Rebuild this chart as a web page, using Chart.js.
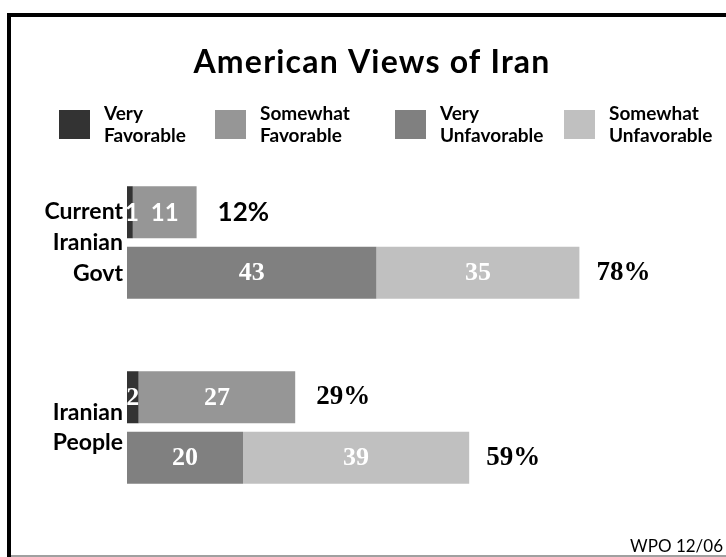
<!DOCTYPE html>
<html><head><meta charset="utf-8">
<script src="https://cdn.jsdelivr.net/npm/chart.js@4"></script>
<style>html,body{margin:0;padding:0;background:#fff}#wrap{width:726px;height:557px;position:relative}</style>
</head><body><div id="wrap"><canvas id="c" width="726" height="557"></canvas></div>
<script>
const chartTitle = "American Views of Iran";
const sourceNote = "WPO 12/06";
const categories = [["Current","Iranian","Govt"],["Iranian","People"]];
const seriesNames = [["Very","Favorable"],["Somewhat","Favorable"],["Very","Unfavorable"],["Somewhat","Unfavorable"]];
const veryFavorable = [1, 2];
const somewhatFavorable = [11, 27];
const veryUnfavorable = [43, 20];
const somewhatUnfavorable = [35, 39];
const favorableTotals = ["12%", "29%"];
const unfavorableTotals = ["78%", "59%"];

const SANS = "Lato, 'Open Sans', sans-serif";
const SERIF = "'Liberation Serif', 'DejaVu Serif', serif";

const decor = {
  id: 'decor',
  beforeDraw(chart) {
    const ctx = chart.ctx;
    ctx.save();
    ctx.fillStyle = '#fff';
    ctx.fillRect(0, 0, chart.width, chart.height);
    ctx.fillStyle = '#a0a0a0';
    ctx.fillRect(7, 555, 719, 2);
    ctx.fillStyle = '#000';
    ctx.fillRect(7, 13, 719, 4);
    ctx.fillRect(7, 13, 4, 544);
    // title
    ctx.font = "bold 32px " + SANS;
    ctx.textAlign = 'center';
    ctx.textBaseline = 'alphabetic';
    try { ctx.letterSpacing = '1.2px'; } catch (e) {}
    ctx.fillText(chartTitle, 372, 73);
    try { ctx.letterSpacing = '0px'; } catch (e) {}
    // legend
    const lx = [59, 215, 395, 564];
    chart.data.datasets.forEach((ds, i) => {
      ctx.fillStyle = ds.backgroundColor;
      ctx.fillRect(lx[i], 110, 31, 29);
      ctx.fillStyle = '#000';
      ctx.font = "bold 19px " + SANS;
      ctx.textAlign = 'left';
      ds.label.forEach((t, k) => ctx.fillText(t, lx[i] + 45, 120 + k * 22));
    });
    // source
    ctx.font = "17px " + SANS;
    ctx.textAlign = 'right';
    ctx.fillText(sourceNote, 723, 552);
    ctx.restore();
  },
  afterDatasetsDraw(chart) {
    const ctx = chart.ctx;
    ctx.save();
    ctx.textBaseline = 'middle';
    chart.data.datasets.forEach((ds, di) => {
      const meta = chart.getDatasetMeta(di);
      meta.data.forEach((bar, i) => {
        const sans = (i === 0 && ds.stack === 'fav');
        ctx.font = sans ? "bold 24px " + SANS : "bold 26px " + SERIF;
        ctx.fillStyle = '#fff';
        ctx.textAlign = 'center';
        ctx.fillText(String(ds.data[i]), (bar.x + bar.base) / 2 + (sans && di === 0 ? 2 : 0), bar.y + 1);
      });
    });
    const favMeta = chart.getDatasetMeta(1);
    const unfMeta = chart.getDatasetMeta(3);
    ctx.fillStyle = '#000';
    ctx.textAlign = 'left';
    favMeta.data.forEach((bar, i) => {
      ctx.font = i === 0 ? "bold 26px " + SANS : "bold 27px " + SERIF;
      ctx.fillText(favorableTotals[i], bar.x + 21, bar.y);
    });
    unfMeta.data.forEach((bar, i) => {
      ctx.font = "bold 27px " + SERIF;
      ctx.fillText(unfavorableTotals[i], bar.x + 17, bar.y);
    });
    ctx.restore();
  }
};

new Chart(document.getElementById('c'), {
  type: 'bar',
  data: {
    labels: categories,
    datasets: [
      { label: seriesNames[0], data: veryFavorable, backgroundColor: '#333333', stack: 'fav' },
      { label: seriesNames[1], data: somewhatFavorable, backgroundColor: '#969696', stack: 'fav' },
      { label: seriesNames[2], data: veryUnfavorable, backgroundColor: '#808080', stack: 'unfav' },
      { label: seriesNames[3], data: somewhatUnfavorable, backgroundColor: '#c0c0c0', stack: 'unfav' }
    ]
  },
  options: {
    indexAxis: 'y',
    responsive: false,
    animation: false,
    layout: { padding: { top: 150, bottom: 37, right: 19, left: 0 } },
    datasets: { bar: { categoryPercentage: 0.654, barPercentage: 0.86, borderWidth: 0 } },
    plugins: { legend: { display: false }, title: { display: false }, tooltip: { enabled: false } },
    scales: {
      x: { stacked: true, min: 0, max: 100, display: false },
      y: {
        grid: { display: false, drawTicks: false },
        border: { display: false },
        ticks: { color: '#000', padding: 4, font: { family: SANS, size: 23, weight: 'bold', lineHeight: 1.33 } },
        afterFit(s) { s.width = 127; s.paddingTop = 0; s.paddingBottom = 0; }
      }
    }
  },
  plugins: [decor]
});
</script>
</body></html>
